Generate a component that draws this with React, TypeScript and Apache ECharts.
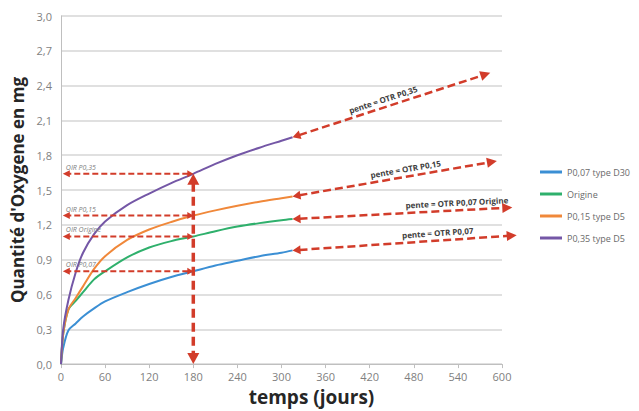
import React, { useEffect, useRef } from "react";
import * as echarts from "echarts";

const days = [0, 3, 10, 20, 30, 45, 60, 90, 120, 150, 180, 210, 240, 270, 300, 315];
const p007 = [0, 0.14, 0.29, 0.35, 0.41, 0.48, 0.54, 0.62, 0.69, 0.75, 0.8, 0.85, 0.89, 0.93, 0.96, 0.98];
const origine = [0, 0.26, 0.47, 0.545, 0.62, 0.73, 0.8, 0.92, 1.005, 1.06, 1.1, 1.145, 1.185, 1.215, 1.24, 1.25];
const p015 = [0, 0.26, 0.47, 0.57, 0.67, 0.82, 0.93, 1.07, 1.16, 1.225, 1.28, 1.325, 1.365, 1.4, 1.43, 1.445];
const p035 = [0, 0.3, 0.55, 0.79, 0.96, 1.12, 1.23, 1.37, 1.47, 1.56, 1.64, 1.725, 1.8, 1.865, 1.925, 1.955];

const seriesNames = ["P0,07 type D30", "Origine", "P0,15 type D5", "P0,35 type D5"];
const seriesValues = [p007, origine, p015, p035];
const seriesColors = ["#3b8fd4", "#2fb06c", "#f0883a", "#7457a6"];

const oirLabels = ["OIR P0,07", "OIR Origine", "OIR P0,15", "OIR P0,35"];
const oirDay = 180;
const oirStartDay = 2.5;

const slopeLabels = ["pente = OTR P0,07", "pente = OTR P0,07 Origine", "pente = OTR P0,15", "pente = OTR P0,35"];
const slopeEnds: [number, number][] = [
  [620, 1.11],
  [614, 1.35],
  [593, 1.75],
  [584, 2.51],
];
const slopeLabelPos = [0.65, 0.75, 0.56, 0.47];

const xTicks = { min: 0, max: 600, interval: 60 };
const yTicks = { min: 0, max: 3, interval: 0.3 };

const RED = "#d23c2a";

export default function App() {
  const ref = useRef<HTMLDivElement>(null);
  useEffect(() => {
    if (!ref.current) return;
    const chart = echarts.init(ref.current, undefined, { renderer: "svg" });
    chart.setOption({
      animation: false,
      backgroundColor: "#ffffff",
      grid: { left: 61, right: 137, top: 16, bottom: 45, containLabel: false },
      legend: {
        orient: "vertical",
        left: 535,
        top: 161,
        itemWidth: 22,
        itemHeight: 3,
        itemGap: 10,
        icon: "rect",
        textStyle: { color: "#6a6a6a", fontSize: 9, fontFamily: "Open Sans", lineHeight: 12, height: 12 },
        data: seriesNames,
      },
      xAxis: {
        type: "value",
        min: xTicks.min,
        max: xTicks.max,
        interval: xTicks.interval,
        name: "temps (jours)",
        nameLocation: "middle",
        nameGap: 20,
        nameTextStyle: {
          color: "#262626",
          fontSize: 19,
          fontWeight: "bold",
          fontFamily: "Open Sans",
          padding: [0, 0, 0, 60],
        },
        axisLine: { show: true, lineStyle: { color: "#bfbfbf", width: 1 } },
        axisTick: { show: true, length: 4, lineStyle: { color: "#bfbfbf" } },
        axisLabel: { color: "#7f7f7f", fontSize: 11, fontFamily: "Open Sans", margin: 7 },
        splitLine: { show: false },
      },
      yAxis: {
        type: "value",
        min: yTicks.min,
        max: yTicks.max,
        interval: yTicks.interval,
        name: "Quantité d'Oxygene en mg",
        nameLocation: "middle",
        nameGap: 33,
        nameTextStyle: { color: "#262626", fontSize: 17, fontWeight: "bold", fontFamily: "Open Sans" },
        axisLine: { show: true, lineStyle: { color: "#bfbfbf", width: 1 } },
        axisTick: { show: false },
        axisLabel: {
          color: "#7f7f7f",
          fontSize: 11,
          fontFamily: "Open Sans",
          margin: 9,
          formatter: (v: number) => v.toFixed(1).replace(".", ","),
        },
        splitLine: { show: true, lineStyle: { color: "#d6d6d6", width: 1.5 } },
      },
      series: seriesNames.map((name, i) => ({
        name,
        type: "line",
        data: days.map((d, j) => [d, seriesValues[i][j]]),
        smooth: 0.3,
        showSymbol: false,
        symbol: "none",
        lineStyle: { color: seriesColors[i], width: 2 },
        itemStyle: { color: seriesColors[i] },
        z: 2,
      })),
    });

    const px = (p: [number, number]) => chart.convertToPixel({ gridIndex: 0 }, p) as number[];
    const head = (tip: number[], from: number[], L: number, W: number) => {
      const dx = tip[0] - from[0];
      const dy = tip[1] - from[1];
      const len = Math.hypot(dx, dy) || 1;
      const ux = dx / len;
      const uy = dy / len;
      const bx = tip[0] - ux * L;
      const by = tip[1] - uy * L;
      return {
        type: "polygon",
        shape: { points: [[tip[0], tip[1]], [bx - uy * W, by + ux * W], [bx + uy * W, by - ux * W]] },
        style: { fill: RED },
        z: 10,
      };
    };
    const shorten = (a: number[], b: number[], d: number) => {
      const dx = b[0] - a[0];
      const dy = b[1] - a[1];
      const len = Math.hypot(dx, dy) || 1;
      return [b[0] - (dx / len) * d, b[1] - (dy / len) * d];
    };
    const dashed = (a: number[], b: number[], w: number, dash: number[]) => ({
      type: "line",
      shape: { x1: a[0], y1: a[1], x2: b[0], y2: b[1] },
      style: { stroke: RED, lineWidth: w, lineDash: dash },
      z: 9,
    });

    const elements: any[] = [];
    const idx180 = days.indexOf(oirDay);

    seriesValues.forEach((vals, i) => {
      const v = vals[idx180];
      const right = px([oirDay, v]);
      const left = px([oirStartDay, v]);
      const a = shorten(right, left, 6);
      const b = shorten(left, right, 5);
      elements.push(dashed(b, a, 2, [6, 3]));
      elements.push(head(left, right, 7, 3.5));
      elements.push(head(right, left, 6, 3.5));
      elements.push({
        type: "text",
        x: left[0] + 3,
        y: left[1] - 3,
        style: {
          text: oirLabels[i],
          fill: "#808080",
          fontSize: 7,
          fontStyle: "italic",
          fontFamily: "Open Sans",
          align: "left",
          verticalAlign: "bottom",
        },
        z: 11,
      });
    });

    {
      const top = px([oirDay, p035[idx180]]);
      const bot = px([oirDay, 0]);
      const a = shorten(bot, top, 9);
      const b = shorten(top, bot, 9);
      elements.push(dashed(a, b, 3.5, [9, 5]));
      elements.push(head(top, bot, 11, 6));
      elements.push(head(bot, top, 11, 6));
    }

    seriesValues.forEach((vals, i) => {
      const start = px([days[days.length - 1], vals[vals.length - 1]]);
      const end = px(slopeEnds[i]);
      const a = shorten(end, start, 7);
      const b = shorten(start, end, 8);
      elements.push(dashed(a, b, 2.5, [8, 4]));
      elements.push(head(end, start, 10, 5));
      elements.push(head(start, end, 8, 4.5));
      const t = slopeLabelPos[i];
      const mx = start[0] + (end[0] - start[0]) * t;
      const my = start[1] + (end[1] - start[1]) * t;
      const ang = Math.atan2(-(end[1] - start[1]), end[0] - start[0]);
      elements.push({
        type: "text",
        x: mx - Math.sin(ang) * 4,
        y: my - Math.cos(ang) * 4,
        rotation: ang,
        style: {
          text: slopeLabels[i],
          fill: "#404040",
          fontSize: 8,
          fontWeight: "bold",
          fontFamily: "Open Sans",
          align: "center",
          verticalAlign: "bottom",
        },
        z: 11,
      });
    });

    chart.setOption({ graphic: { elements } });
    return () => chart.dispose();
  }, []);
  return <div ref={ref} style={{ width: 639, height: 411, position: "absolute", left: 0, top: 0 }} />;
}
